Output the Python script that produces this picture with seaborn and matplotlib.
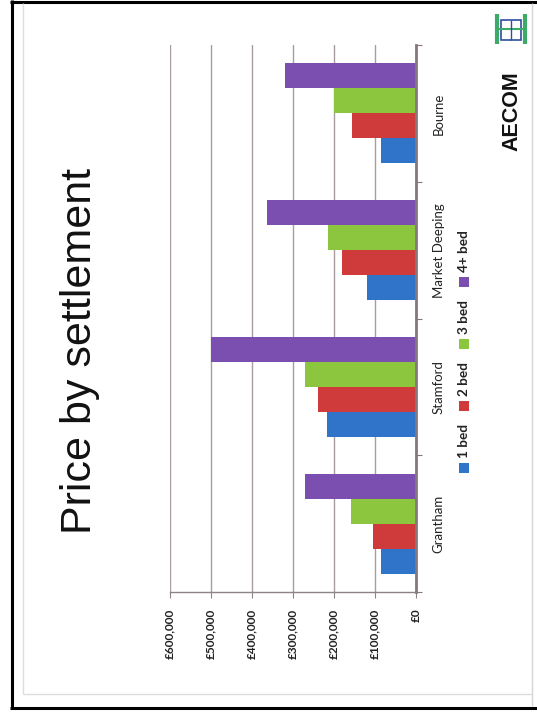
import matplotlib
matplotlib.use("Agg")
import matplotlib.pyplot as plt
import seaborn as sns
import pandas as pd
from matplotlib.patches import Rectangle
from matplotlib.lines import Line2D
from matplotlib.ticker import FixedLocator, FuncFormatter

# ---------------- data ----------------
settlements = ["Grantham", "Stamford", "Market Deeping", "Bourne"]
bed_types = ["1 bed", "2 bed", "3 bed", "4+ bed"]
price_1bed = [86000, 216000, 120000, 85000]
price_2bed = [105000, 240000, 180000, 155000]
price_3bed = [159000, 271000, 214000, 200000]
price_4bed = [270000, 500000, 364000, 320000]
value_ticks = [0, 100000, 200000, 300000, 400000, 500000, 600000]
bar_colors = ["#2F74C8", "#CF3A3A", "#8CC63E", "#7A4FAF"]
title_text = "Price by settlement"
logo_text = "AECOM"

rows = []
for bed, vals in zip(bed_types, [price_1bed, price_2bed, price_3bed, price_4bed]):
    for s, v in zip(settlements, vals):
        rows.append({"settlement": s, "bed": bed, "price": v})
df = pd.DataFrame(rows)

W, H = 537, 714
sns.set_theme(style="white")
plt.rcParams["font.family"] = ["Lato", "DejaVu Sans"]

fig = plt.figure(figsize=(W / 100, H / 100), dpi=100)
fig.patch.set_facecolor("white")


def fx(x):
    return x / W


def fy(y):
    return 1 - y / H


# axes placed in pixel terms (chart is rotated 90 deg CCW)
ax_l, ax_r, ax_t, ax_b = 170, 416, 45, 592
ax = fig.add_axes([fx(ax_l), fy(ax_b), (ax_r - ax_l) / W, (ax_b - ax_t) / H])
ax.set_facecolor("white")

sns.barplot(
    data=df, y="settlement", x="price", hue="bed", orient="h",
    order=settlements[::-1], hue_order=bed_types[::-1],
    palette=dict(zip(bed_types, bar_colors)), saturation=1,
    width=0.73, ax=ax, legend=False, errorbar=None, linewidth=0,
    edgecolor="none",
)

ax.set_xlim(max(value_ticks), 0)
ax.set_ylim(len(settlements) - 0.5, -0.5)
ax.set_xlabel("")
ax.set_ylabel("")

# grid / spines
ax.xaxis.set_major_locator(FixedLocator(value_ticks))
ax.xaxis.set_major_formatter(FuncFormatter(lambda v, p: "£{:,}".format(int(v))))
ax.xaxis.grid(True, color="#A89C9C", lw=1.0)
ax.yaxis.grid(False)
ax.set_axisbelow(True)
for s in ["left", "top"]:
    ax.spines[s].set_visible(False)
ax.spines["right"].set_color("#857878")
ax.spines["right"].set_linewidth(2.0)
ax.spines["bottom"].set_color("#8C8484")
ax.spines["bottom"].set_linewidth(1.0)

ax.tick_params(axis="x", bottom=True, direction="out", length=4, width=0.8,
               color="#8C8484", pad=8, labelsize=8.5, labelcolor="#222222",
               labelrotation=90)
for lab in ax.get_xticklabels():
    lab.set_fontweight("bold")

ax.yaxis.tick_right()
ax.set_yticks(range(len(settlements)))
ax.set_yticks([i - 0.5 for i in range(len(settlements) + 1)], minor=True)
ax.tick_params(axis="y", which="major", right=True, left=False, length=0,
               pad=12, labelsize=9.5, labelcolor="#222222")
ax.tick_params(axis="y", which="minor", right=True, left=False, length=4,
               width=0.8, color="#857878")
plt.setp(ax.get_yticklabels(), rotation=90, va="center", ha="left")

# title
fig.text(fx(80), fy(351), title_text, rotation=90, ha="center", va="center",
         fontsize=31, family=["Liberation Sans", "DejaVu Sans"], color="#111111")

# legend (rotated, drawn manually)
fig.canvas.draw()
renderer = fig.canvas.get_renderer()
y = 473.0
for lab, col in zip(bed_types, bar_colors):
    sq = 10
    fig.add_artist(Rectangle((fx(459), fy(y)), sq / W, sq / H,
                             transform=fig.transFigure, facecolor=col,
                             edgecolor="none"))
    t = fig.text(fx(464.5), fy(y - sq - 5), lab, rotation=90, ha="center",
                 va="bottom", fontsize=9.8, fontweight="bold", color="#222222")
    ext = t.get_window_extent(renderer)
    y = (y - sq - 5) - ext.height - 13

# AECOM logo text
fig.text(fx(512), fy(111), logo_text, rotation=90, ha="center", va="center",
         fontsize=15.5, fontweight="bold", family=["Liberation Sans", "DejaVu Sans"],
         color="#111111")

# small logo icon
def fline(x0, y0, x1, y1, c, lw):
    fig.add_artist(Line2D([fx(x0), fx(x1)], [fy(y0), fy(y1)],
                          transform=fig.transFigure, color=c, lw=lw,
                          solid_capstyle="butt"))

fline(497, 14, 497, 44, "#3DAA6A", 3)
fline(525, 14, 525, 44, "#3DAA6A", 3)
fig.add_artist(Rectangle((fx(501), fy(40)), 20 / W, 20 / H, transform=fig.transFigure,
                         facecolor="none", edgecolor="#2E4FA0", lw=1.2))
fline(499, 29, 523, 29, "#3DAA6A", 1.5)
fline(511, 20, 511, 40, "#2E4FA0", 1.0)

# slide frame
fline(10, 1.5, 537, 1.5, "black", 2.2)
fline(11.5, 0, 11.5, 709, "black", 2.2)
fline(10, 707.5, 537, 707.5, "black", 2.2)
fline(532, 3, 532, 706, "#D5D5D5", 1.0)
fline(23, 3, 23, 694, "#DDDDDD", 1.0)
fline(23, 694, 532, 694, "#DDDDDD", 1.0)

fig.savefig("out.png", dpi=100, facecolor="white")
